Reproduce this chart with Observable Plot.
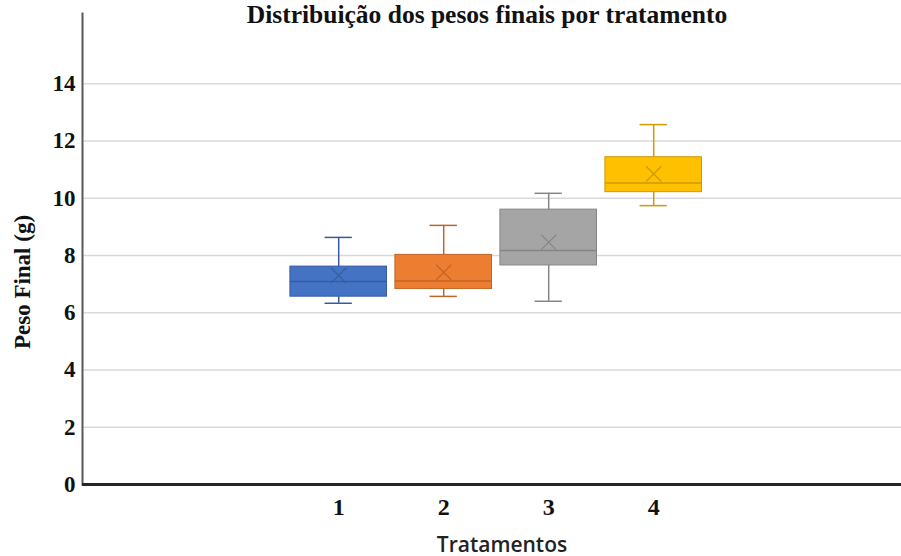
<!DOCTYPE html>
<html>
<head>
<meta charset="utf-8">
<script src="https://cdn.jsdelivr.net/npm/d3@7"></script>
<script src="https://cdn.jsdelivr.net/npm/@observablehq/plot@0.6"></script>
<style>
  body { margin: 0; background: #fff; }
  #chart svg { display: block; }
</style>
</head>
<body>
<div id="chart"></div>
<script>
const treatments = ["1", "2", "3", "4"];
const whiskerLow  = [6.33, 6.57, 6.40, 9.74];
const q1          = [6.56, 6.83, 7.65, 10.21];
const median      = [7.09, 7.11, 8.17, 10.53];
const q3          = [7.61, 8.02, 9.60, 11.43];
const whiskerHigh = [8.63, 9.05, 10.17, 12.57];
const mean        = [7.30, 7.41, 8.46, 10.85];
const colors      = ["#4472C4", "#ED7D31", "#A5A5A5", "#FFC000"];
const yTicks      = [0, 2, 4, 6, 8, 10, 12, 14];
const gridTicks   = [2, 4, 6, 8, 10, 12, 14];

const title = "Distribuição dos pesos finais por tratamento";
const xLabel = "Tratamentos";
const yLabel = "Peso Final (g)";

const data = treatments.map((t, i) => ({
  t, pos: i + 1,
  lo: whiskerLow[i], q1: q1[i], med: median[i], q3: q3[i], hi: whiskerHigh[i], mean: mean[i],
  fill: colors[i],
  dark: d3.color(colors[i]).darker(0.6).formatHex()
}));

const bw = 0.46, cw = 0.13;
const serif = "'Liberation Serif', 'Times New Roman', serif";

const chart = Plot.plot({
  width: 901,
  height: 556,
  marginLeft: 82,
  marginRight: 0,
  marginTop: 13,
  marginBottom: 72,
  style: { fontFamily: serif, background: "#fff" },
  x: { domain: [-1.44, 6.36] },
  y: { domain: [0, 16.45] },
  marks: [
    Plot.ruleY(gridTicks, { stroke: "#d9d9d9", strokeWidth: 1.5 }),
    Plot.frame({ anchor: "left", stroke: "#595959", strokeWidth: 2 }),
    Plot.ruleY([0], { stroke: "#262626", strokeWidth: 3 }),
    // whiskers
    Plot.ruleX(data, { x: "pos", y1: "lo", y2: "hi", stroke: "dark", strokeWidth: 1.5 }),
    Plot.ruleY(data, { y: "lo", x1: d => d.pos - cw, x2: d => d.pos + cw, stroke: "dark", strokeWidth: 1.5 }),
    Plot.ruleY(data, { y: "hi", x1: d => d.pos - cw, x2: d => d.pos + cw, stroke: "dark", strokeWidth: 1.5 }),
    // boxes
    Plot.rect(data, { x1: d => d.pos - bw, x2: d => d.pos + bw, y1: "q1", y2: "q3", fill: "fill", stroke: "dark", strokeWidth: 1 }),
    Plot.ruleY(data, { y: "med", x1: d => d.pos - bw, x2: d => d.pos + bw, stroke: "dark", strokeWidth: 1.5 }),
    Plot.dot(data, { x: "pos", y: "mean", symbol: "times", r: 7, stroke: "dark", strokeWidth: 1.2 }),
    // axes
    Plot.axisY({ ticks: yTicks, tickSize: 0, tickPadding: 7, fontSize: 23, fontWeight: "bold", fill: "#111", label: null }),
    Plot.axisX({ ticks: [1, 2, 3, 4], tickFormat: d => treatments[d - 1], tickSize: 0, tickPadding: 13, fontSize: 24, fontWeight: "bold", fill: "#111", label: null }),
    // labels
    Plot.text([title], { frameAnchor: "top", textAnchor: "middle", lineAnchor: "bottom", dy: 9, dx: -5, fontSize: 25.5, fontWeight: "bold", fill: "#111" }),
    Plot.text([xLabel], { frameAnchor: "bottom", textAnchor: "middle", lineAnchor: "bottom", dy: 67, dx: 10, fontSize: 21, fontWeight: 600, fontFamily: "'Open Sans', sans-serif", fill: "#222" }),
    Plot.text([yLabel], { frameAnchor: "left", textAnchor: "middle", rotate: -90, dx: -60, dy: 33, fontSize: 23, fontWeight: "bold", fill: "#111" })
  ]
});
document.getElementById("chart").append(chart);
</script>
</body>
</html>
